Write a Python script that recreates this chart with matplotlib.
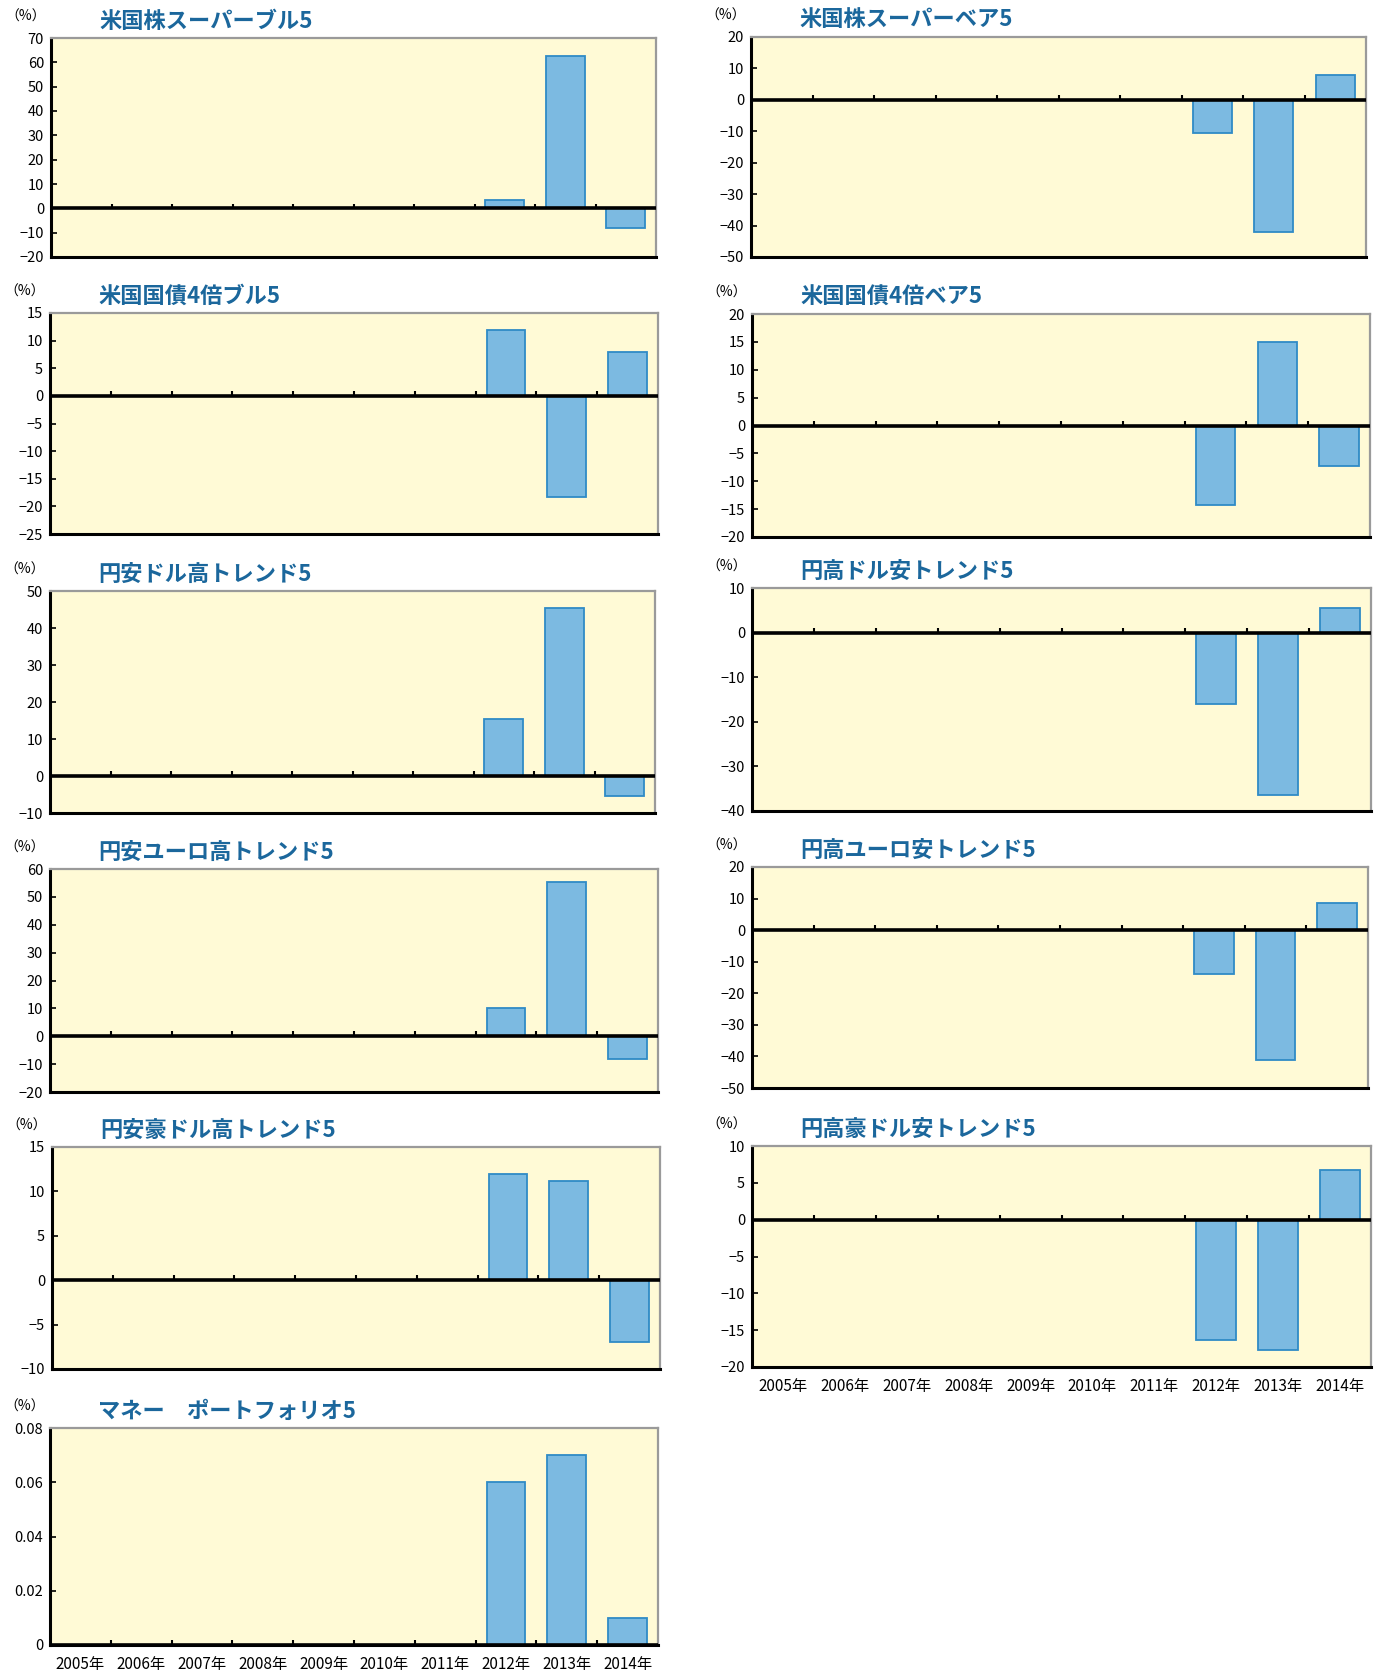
import numpy as np
import matplotlib
matplotlib.use("Agg")
import matplotlib.pyplot as plt

plt.rcParams['font.family'] = ['Noto Sans CJK JP', 'DejaVu Sans']

# データ（2005年〜2014年、2011年まではデータなし）
years = ['2005年', '2006年', '2007年', '2008年', '2009年',
         '2010年', '2011年', '2012年', '2013年', '2014年']

titles = ['米国株スーパーブル5', '米国株スーパーベア5',
          '米国国債4倍ブル5', '米国国債4倍ベア5',
          '円安ドル高トレンド5', '円高ドル安トレンド5',
          '円安ユーロ高トレンド5', '円高ユーロ安トレンド5',
          '円安豪ドル高トレンド5', '円高豪ドル安トレンド5',
          'マネー　ポートフォリオ5']

nd = [None] * 7
us_bull = nd + [3.5, 62.5, -8.0]
us_bear = nd + [-10.5, -42.0, 8.0]
bond_bull = nd + [12.0, -18.3, 8.0]
bond_bear = nd + [-14.3, 15.0, -7.3]
usd_up = nd + [15.3, 45.5, -5.5]
usd_down = nd + [-16.0, -36.5, 5.5]
eur_up = nd + [10.0, 55.5, -8.0]
eur_down = nd + [-14.0, -41.0, 8.5]
aud_up = nd + [12.0, 11.2, -7.0]
aud_down = nd + [-16.3, -17.7, 6.7]
money = nd + [0.06, 0.07, 0.01]

series = [us_bull, us_bear, bond_bull, bond_bear, usd_up, usd_down,
          eur_up, eur_down, aud_up, aud_down, money]

ylims = [(-20, 70, 10), (-50, 20, 10), (-25, 15, 5), (-20, 20, 5),
         (-10, 50, 10), (-40, 10, 10), (-20, 60, 10), (-50, 20, 10),
         (-10, 15, 5), (-20, 10, 5), (0, 0.08, 0.02)]

# 各パネルの位置（ピクセル: left, top, right, bottom）
W, H = 1381, 1675
boxes = [(51, 38, 656, 257), (751, 37, 1366, 257),
         (50, 313, 658, 534), (752, 314, 1370, 537),
         (50, 591, 655, 813), (752, 588, 1371, 811),
         (50, 869, 658, 1092), (752, 867, 1368, 1088),
         (52, 1147, 660, 1369), (752, 1146, 1371, 1367),
         (50, 1428, 658, 1645)]
show_years = [False] * 9 + [True, True]

bg = '#FFFAD6'
bar_face = '#7CBAE1'
bar_edge = '#2F8BC6'
title_col = '#1B679C'

fig = plt.figure(figsize=(W / 100, H / 100), dpi=100)

x = np.arange(len(years))
for i in range(len(titles)):
    l, t, r, b = boxes[i]
    ax = fig.add_axes([l / W, 1 - b / H, (r - l) / W, (b - t) / H])
    ax.set_facecolor(bg)
    vals = np.array(series[i], dtype=float)
    ax.bar(x, vals, width=0.64, color=bar_face, edgecolor=bar_edge,
           linewidth=1.3, zorder=2)
    lo, hi, step = ylims[i]
    ax.set_xlim(-0.5, len(years) - 0.5)
    ax.set_ylim(lo, hi)
    ticks = np.arange(lo, hi + step / 2, step)
    ax.set_yticks(ticks)
    if step < 1:
        ax.set_yticklabels(['0' if v == 0 else f'{v:.2f}' for v in ticks])
    else:
        ax.set_yticklabels([f'{int(round(v))}'.replace('-', '−') for v in ticks])
    ax.tick_params(axis='y', direction='in', length=4, width=1.2,
                   labelsize=10.5, pad=5, colors='black')

    # ゼロ線と区切りの目盛り
    ax.axhline(0, color='black', linewidth=2.6, zorder=3)
    yr = hi - lo
    for k in range(1, len(years)):
        ax.plot([k - 0.5, k - 0.5], [0, yr * 0.022], color='black',
                linewidth=1.5, zorder=3, solid_capstyle='butt')

    ax.set_xticks(x)
    if show_years[i]:
        ax.set_xticklabels(years, fontsize=11)
        ax.tick_params(axis='x', length=0, pad=8)
    else:
        ax.set_xticklabels([])
        ax.tick_params(axis='x', length=0)

    for side in ['left', 'bottom']:
        ax.spines[side].set_color('black')
        ax.spines[side].set_linewidth(2.2)
    for side in ['top', 'right']:
        ax.spines[side].set_color('#9A9A9A')
        ax.spines[side].set_linewidth(1.6)

    fig.text((l - 25) / W, 1 - (t - 21) / H, '（%）', fontsize=10,
             ha='center', va='center')
    fig.text((l + 48) / W, 1 - (t - 17) / H, titles[i], fontsize=16,
             fontweight='bold', color=title_col, ha='left', va='center')

fig.savefig('out.png', dpi=100, facecolor='white')
